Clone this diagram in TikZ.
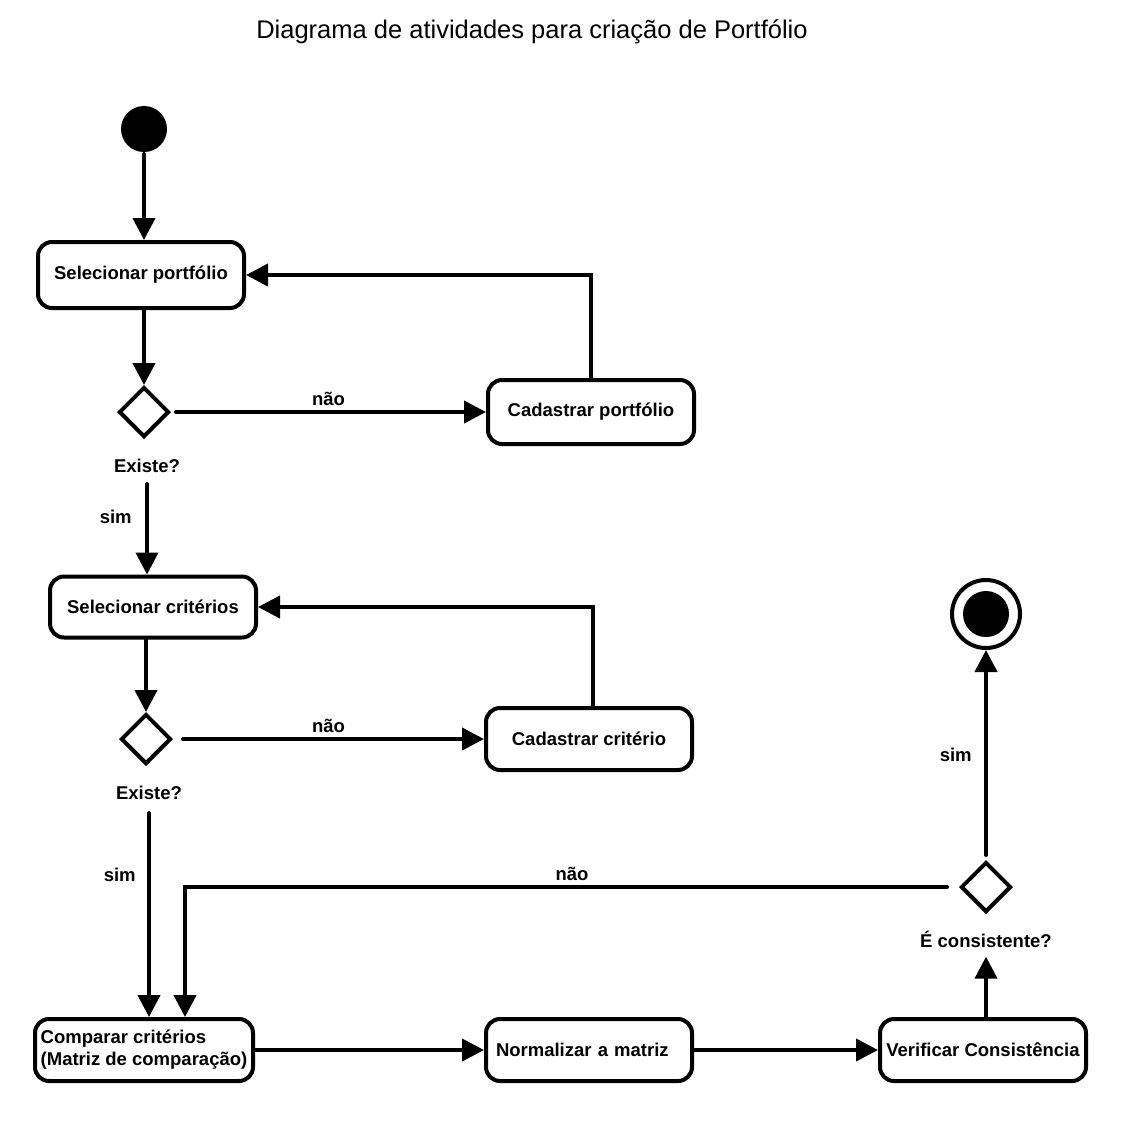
\documentclass[tikz,border=0pt]{standalone}
\usepackage{fontspec}
\setmainfont{Liberation Sans}
\usetikzlibrary{shapes.geometric,arrows.meta}

\begin{document}
\begin{tikzpicture}[x=1pt,y=-1pt,line width=4pt,line cap=round,
    act/.style={draw,rounded corners=14pt,minimum width=206pt,minimum height=62pt,font=\bfseries\fontsize{18.5}{22}\selectfont},
    dec/.style={draw,diamond,aspect=1,minimum size=50pt,inner sep=0pt},
    lbl/.style={font=\bfseries\fontsize{18.5}{22}\selectfont},
    arr/.style={-{Triangle[length=22pt,width=22pt]}}]
            \useasboundingbox (0,0) rectangle (1124,1120);
            \node[font=\fontsize{25.5}{30}\selectfont] (title) at (532,32) {Diagrama de atividades para criação de Portfólio};
            \node[circle,fill,minimum size=46pt,inner sep=0pt] (start) at (144,129) {};   %inicio
            \node[act,minimum height=66pt] (selport) at (141,275) {Selecionar portfólio};   %a
            \node[dec] (dec1) at (144,412) {};                                          %d1
            \node[lbl] (ex1) at (147,466) {Existe?};
            \node[act,minimum height=64pt] (cadport) at (591,412) {Cadastrar portfólio};  %b
            \node[act,minimum height=61pt] (selcrit) at (153,607) {Selecionar critérios}; %c
            \node[dec] (dec2) at (146,739) {};                                          %d2
            \node[lbl] (ex2) at (149,793) {Existe?};
            \node[act] (cadcrit) at (589,739) {Cadastrar critério};                     %d
            \node[act,minimum width=218pt,inner xsep=3pt,align=left] (comp) at (144,1050) {Comparar critérios\\(Matriz de comparação)}; %e
            \node[act,text width=186pt,align=left] (norm) at (589,1050) {Normalizar a matriz}; %f
            \node[act] (verif) at (983,1050) {Verificar Consistência};                  %g
            \node[lbl] (ex3) at (986,939) {É consistente?};
            \node[dec] (dec3) at (986,887) {};                                          %d3
            \node[circle,draw,minimum size=68pt,inner sep=0pt] (fim) at (986,614) {};  %fim
            \node[circle,fill,minimum size=46pt,inner sep=0pt] (fimin) at (986,614) {};
            \draw[arr] (start) -- (start |- selport.north);                             % inicio-a
            \draw[arr] (dec1 |- selport.south) -- (dec1);                               % a-d1
            \draw[arr,shorten <=5pt] (dec1) -- (cadport) node[midway,above=1pt,lbl] {não}; % d1-b
            \draw[arr] (cadport.north) |- (selport.east);                               % b-a
            \draw[arr,shorten <=6pt] (ex1) -- (ex1 |- selcrit.north) node[pos=0.4,left=10pt,lbl] {sim}; % d1-c
            \draw[arr] (dec2 |- selcrit.south) -- (dec2);                               % c-d2
            \draw[arr,shorten <=10pt] (dec2) -- (cadcrit) node[midway,above=1pt,lbl] {não}; % d2-d
            \draw[arr] ([xshift=4pt]cadcrit.north) |- (selcrit.east);                   % d-c
            \draw[arr,shorten <=8pt] (ex2) -- (ex2 |- comp.north) node[pos=0.33,left=8pt,lbl] {sim}; % d2-e
            \draw[arr] (comp) -- (norm);                                                % e-f
            \draw[arr] (norm) -- (verif);                                               % f-g
            \draw[arr,shorten >=4pt] (ex3 |- verif.north) -- (ex3);                     % g-d3
            \draw[arr,shorten <=5pt] (dec3) -- (fim) node[midway,left=9pt,lbl] {sim};   % d3-fim
            \draw[arr,shorten <=12pt] (dec3) -| ([xshift=41pt]comp.north) node[pos=0.25,above=1pt,lbl] {não}; % d3-e
        \end{tikzpicture}
\end{document}
